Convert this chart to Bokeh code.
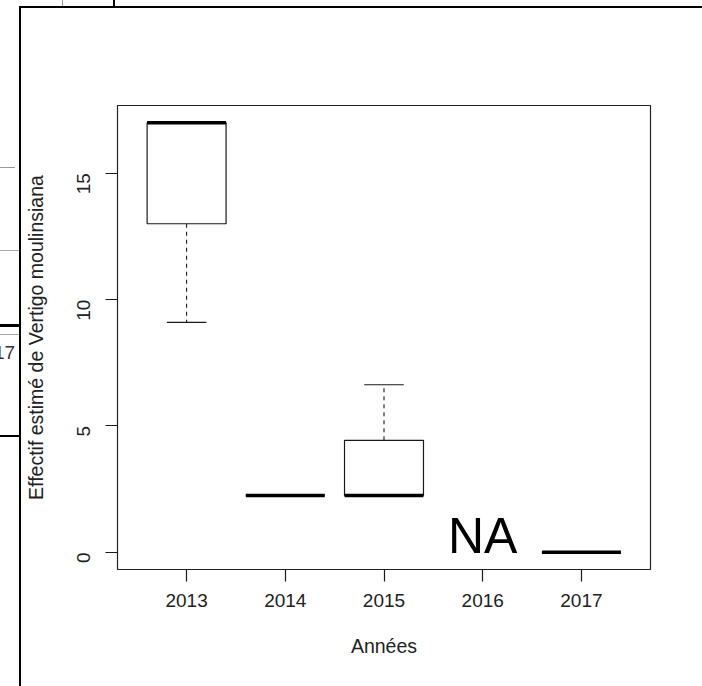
import math
from bokeh.plotting import figure
from bokeh.models import Range1d, FixedTicker, InlineStyleSheet
from bokeh.core.properties import value
from bokeh.embed import file_html
from bokeh.resources import INLINE

# ---- data ----
years = ["2013", "2014", "2015", "2016", "2017"]
lower_whisker = [9.1, 2.25, 2.25, None, 0.0]
q1 = [13.0, 2.25, 2.25, None, 0.0]
median = [17.0, 2.25, 2.25, None, 0.0]
q3 = [17.0, 2.25, 4.43, None, 0.0]
upper_whisker = [17.0, 2.25, 6.63, None, 0.0]
y_ticks = [0, 5, 10, 15]
x_title = "Années"
y_title = "Effectif estimé de Vertigo moulinsiana"
na_text = "NA"

# ---- style ----
FONT = "Liberation Sans"
W, H = 702, 686
ML, MT = 117, 105
MR, MB = W - 650, H - 569
BOX_W = 0.8
STAPLE_W = 0.4
INK = "#1a1a1a"

n = len(years)
xs = list(range(1, n + 1))
ok = [i for i in range(n) if median[i] is not None]
na = [i for i in range(n) if median[i] is None]

ymin = min(v for v in lower_whisker if v is not None)
ymax = max(v for v in upper_whisker if v is not None)
ypad = 0.04 * (ymax - ymin)
xlo, xhi = 0.5, n + 0.5
xpad = 0.04 * (xhi - xlo)
xr = Range1d(xlo - xpad, xhi + xpad)
yr = Range1d(ymin - ypad, ymax + ypad)

p = figure(width=W, height=H, x_range=xr, y_range=yr, title=None,
           output_backend="svg", toolbar_location=None,
           min_border_left=ML, min_border_right=MR,
           min_border_top=MT, min_border_bottom=MB)
p.xgrid.visible = False
p.ygrid.visible = False
p.outline_line_color = "#222222"
p.outline_line_width = 1.2
p.background_fill_color = "white"
p.border_fill_color = "white"

# boxes
p.quad(left=[xs[i] - BOX_W / 2 for i in ok], right=[xs[i] + BOX_W / 2 for i in ok],
       bottom=[q1[i] for i in ok], top=[q3[i] for i in ok],
       fill_color="white", line_color=INK, line_width=1.2)

# whiskers (dashed)
wx, wy0, wy1 = [], [], []
for i in ok:
    if upper_whisker[i] > q3[i]:
        wx.append(xs[i]); wy0.append(q3[i]); wy1.append(upper_whisker[i])
    if lower_whisker[i] < q1[i]:
        wx.append(xs[i]); wy0.append(q1[i]); wy1.append(lower_whisker[i])
p.segment(x0=wx, y0=wy0, x1=wx, y1=wy1, line_color=INK, line_width=1.1, line_dash="4 4")

# staples
sx0, sx1, sy = [], [], []
for i in ok:
    for v in (lower_whisker[i], upper_whisker[i]):
        sx0.append(xs[i] - STAPLE_W / 2); sx1.append(xs[i] + STAPLE_W / 2); sy.append(v)
p.segment(x0=sx0, y0=sy, x1=sx1, y1=sy, line_color=INK, line_width=1.2)

# medians
p.segment(x0=[xs[i] - BOX_W / 2 for i in ok], y0=[median[i] for i in ok],
          x1=[xs[i] + BOX_W / 2 for i in ok], y1=[median[i] for i in ok],
          line_color="black", line_width=3.6)

# NA label for missing year
p.text(x=[xs[i] for i in na], y=[0.0 for i in na], text=[na_text for i in na],
       text_font=value(FONT), text_font_size="50px", text_color="black",
       text_align="center", text_baseline="alphabetic", y_offset=-16)

# axes
p.xaxis.ticker = FixedTicker(ticks=xs)
p.xaxis.major_label_overrides = {x: y for x, y in zip(xs, years)}
p.yaxis.ticker = FixedTicker(ticks=y_ticks)
p.yaxis.major_label_orientation = math.pi / 2
p.xaxis.axis_label = x_title
p.yaxis.axis_label = y_title
for ax in (p.xaxis[0], p.yaxis[0]):
    ax.axis_line_color = None
    ax.major_tick_out = 12
    ax.major_tick_in = 0
    ax.major_tick_line_color = INK
    ax.major_tick_line_width = 1.2
    ax.minor_tick_line_color = None
    ax.major_label_text_font = FONT
    ax.major_label_text_font_size = "19px"
    ax.major_label_text_color = "#222222"
    ax.axis_label_text_font = FONT
    ax.axis_label_text_font_size = "19.5px"
    ax.axis_label_text_font_style = "normal"
    ax.axis_label_text_color = "#222222"
p.xaxis.major_label_standoff = 12
p.yaxis.major_label_standoff = 22
p.xaxis.axis_label_standoff = 25
p.yaxis.axis_label_standoff = 21

# decorative window frame / neighbouring-window fragments of the screenshot (CSS overlay)
css = """
:host { position: relative; }
:host::before {
  content: ""; position: absolute; left: 0; top: 0; right: 0; bottom: 0;
  pointer-events: none; z-index: 50;
  background-repeat: no-repeat;
  background-image:
    linear-gradient(#000,#000), linear-gradient(#000,#000),
    linear-gradient(#999,#999), linear-gradient(#000,#000),
    linear-gradient(#999,#999), linear-gradient(#aaa,#aaa),
    linear-gradient(#000,#000), linear-gradient(#aaa,#aaa),
    linear-gradient(#000,#000);
  background-size:
    2px 800px, 800px 2px,
    1px 7px, 2px 7px,
    15px 1px, 19px 1px,
    19px 3px, 19px 1px,
    19px 2px;
  background-position:
    19px 6px, 19px 6px,
    62px 0px, 113px 0px,
    0px 167px, 0px 250px,
    0px 324px, 0px 334px,
    0px 435px;
}
:host::after {
  content: "17"; position: absolute; left: -6px; top: 339px;
  font-family: 'Liberation Sans'; font-size: 19px; color: #333;
  pointer-events: none; z-index: 50;
}
"""
p.stylesheets = [InlineStyleSheet(css=css)]

open("out.html", "w").write(file_html(p, INLINE))
